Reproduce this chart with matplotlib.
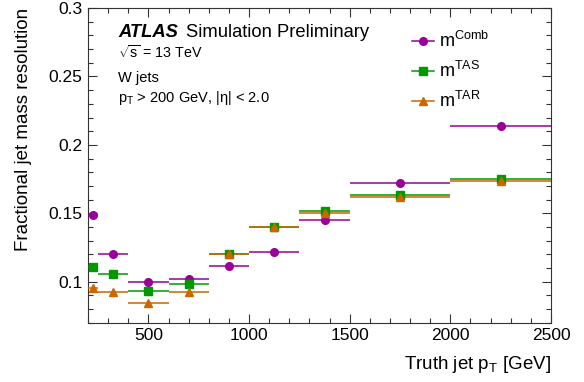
import numpy as np
import matplotlib
matplotlib.use("Agg")
import matplotlib.pyplot as plt
from matplotlib.lines import Line2D
from matplotlib.ticker import MultipleLocator

plt.rcParams["font.family"] = ["Liberation Sans", "DejaVu Sans"]
plt.rcParams["mathtext.fontset"] = "custom"
plt.rcParams["mathtext.rm"] = "Liberation Sans"
plt.rcParams["mathtext.it"] = "Liberation Sans:italic"
plt.rcParams["mathtext.bf"] = "Liberation Sans:bold"

# truth jet pT bins [GeV]
bin_edges = [200, 250, 400, 600, 800, 1000, 1250, 1500, 2000, 2500]

# fractional jet mass resolution per bin
m_comb = [0.149, 0.1205, 0.0995, 0.102, 0.1115, 0.1217, 0.1451, 0.172, 0.2135]
m_tas = [0.111, 0.1056, 0.0934, 0.098, 0.1202, 0.1402, 0.152, 0.1637, 0.1751]
m_tar = [0.0956, 0.0927, 0.0841, 0.0927, 0.1205, 0.1398, 0.1505, 0.1617, 0.1739]

series = [
    (m_comb, r"m$^{\mathrm{Comb}}$", "#990099", "o"),
    (m_tas, r"m$^{\mathrm{TAS}}$", "#009900", "s"),
    (m_tar, r"m$^{\mathrm{TAR}}$", "#cc6600", "^"),
]

edges = np.array(bin_edges, dtype=float)
centers = 0.5 * (edges[1:] + edges[:-1])
half = 0.5 * (edges[1:] - edges[:-1])

fig = plt.figure(figsize=(5.84, 3.82), dpi=100)
ax = fig.add_axes([0.1507, 0.155, 0.7928, 0.824])

handles = []
for vals, lab, col, mk in series:
    ax.errorbar(centers, vals, xerr=half, fmt=mk, color=col, ms=5.5,
                elinewidth=1.1, capsize=0, zorder=3)
    handles.append(Line2D([], [], color=col, marker=mk, ms=5.5, lw=1.1))

ax.set_xlim(200, 2500)
ax.set_ylim(0.07, 0.3)
ax.xaxis.set_major_locator(MultipleLocator(500))
ax.xaxis.set_minor_locator(MultipleLocator(100))
ax.yaxis.set_minor_locator(MultipleLocator(0.01))
ax.set_yticks([0.1, 0.15, 0.2, 0.25, 0.3], ["0.1", "0.15", "0.2", "0.25", "0.3"])
ax.tick_params(which="both", direction="in", top=True, right=True,
               labelsize=12.5, color="#333333")
ax.tick_params(which="major", length=6.5, width=0.8, pad=4)
ax.tick_params(which="minor", length=3.5, width=0.8)
for sp in ax.spines.values():
    sp.set_linewidth(0.8)
    sp.set_color("#333333")

ax.set_xlabel(r"Truth jet $\mathrm{p_T}$ [GeV]", loc="right", fontsize=13.5,
              labelpad=8)
ax.set_ylabel("Fractional jet mass resolution", loc="top", fontsize=13.5,
              labelpad=11.5)

ax.text(0.065, 0.909, "ATLAS", transform=ax.transAxes, fontsize=13.2,
        fontweight="bold", fontstyle="italic", va="baseline")
ax.text(0.212, 0.909, "Simulation Preliminary", transform=ax.transAxes,
        fontsize=13.2, va="baseline")
ax.text(0.065, 0.841, r"$\sqrt{\mathrm{s}}$ = 13 TeV", transform=ax.transAxes,
        fontsize=10.3, va="baseline")
ax.text(0.065, 0.765, "W jets", transform=ax.transAxes, fontsize=10.5,
        va="baseline")
ax.text(0.065, 0.702, r"$\mathrm{p_T}$ > 200 GeV, |η| < 2.0",
        transform=ax.transAxes, fontsize=10.5, va="baseline")

ax.legend(handles, [s[1] for s in series], loc="upper left",
          bbox_to_anchor=(0.68, 0.955), frameon=False, fontsize=13,
          handlelength=1.2, handletextpad=0.3, labelspacing=0.55,
          borderpad=0.0)

fig.savefig("out.png", dpi=100)
